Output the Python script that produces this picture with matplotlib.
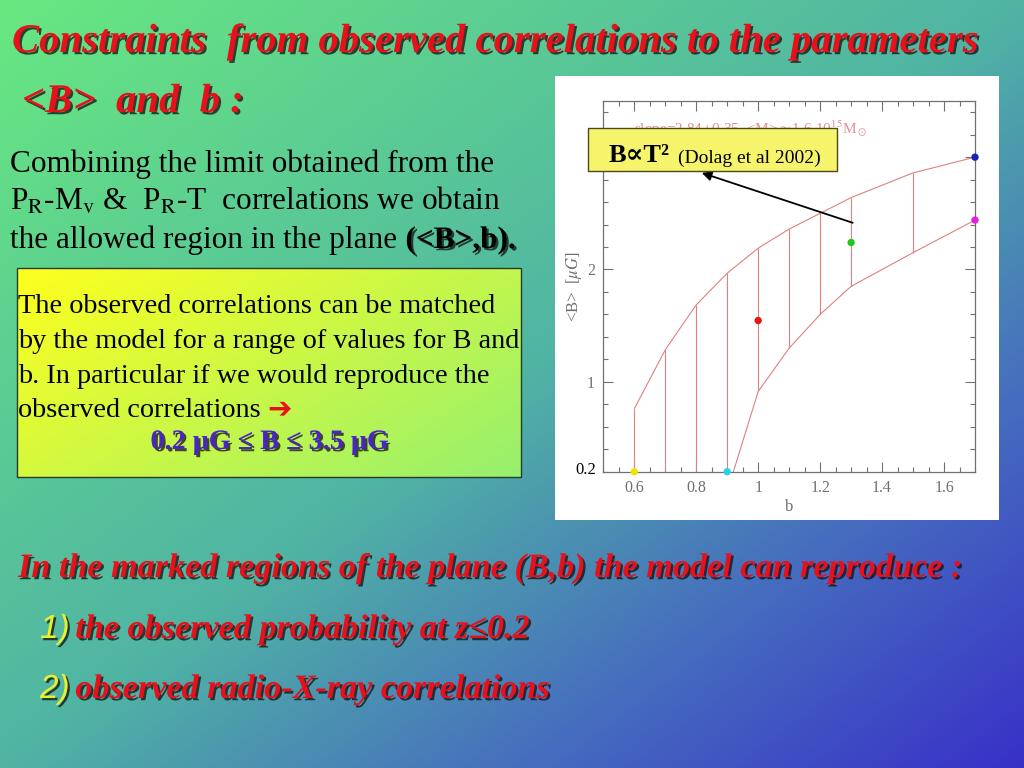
import numpy as np
import matplotlib
matplotlib.use("Agg")
import matplotlib.pyplot as plt
import matplotlib.patheffects as pe
from matplotlib.patches import Rectangle
from matplotlib.ticker import MultipleLocator, FixedLocator

plt.rcParams['mathtext.fontset'] = 'stix'

# ---------------- data ----------------
upper_b = [0.6, 0.7, 0.8, 0.9, 1.0, 1.1, 1.2, 1.3, 1.5, 1.7]
upper_B = [0.76, 1.285, 1.685, 1.967, 2.19, 2.36, 2.50, 2.64, 2.86, 3.0]
lower_b = [0.92, 1.0, 1.1, 1.2, 1.3, 1.5, 1.7]
lower_B = [0.2, 0.914, 1.30, 1.60, 1.85, 2.15, 2.44]
hatch_b = [0.6, 0.7, 0.8, 0.9, 1.0, 1.1, 1.2, 1.3, 1.5]
hatch_lo = [0.2, 0.2, 0.2, 0.2, 0.914, 1.30, 1.60, 1.85, 2.15]
hatch_hi = [0.76, 1.285, 1.685, 1.967, 2.19, 2.36, 2.50, 2.64, 2.86]
dot_b = [0.6, 0.9, 1.0, 1.3, 1.7, 1.7]
dot_B = [0.2, 0.2, 1.546, 2.24, 3.0, 2.44]
dot_colors = ['#f2e400', '#22d4e4', '#e01818', '#22c41e', '#1422c0', '#e41ee4']
x_ticks = [0.6, 0.8, 1.0, 1.2, 1.4, 1.6]
x_ticklabels = ['0.6', '0.8', '1', '1.2', '1.4', '1.6']
y_ticks = [1, 2, 3]
y_ticklabels = ['1', '2', '3']

title1 = "Constraints  from observed correlations to the parameters"
title2 = " <B>  and  b :"
para = ["Combining the limit obtained from the",
        r"P$_\mathrm{R}$-M$_\mathrm{v}$ &  P$_\mathrm{R}$-T  correlations we obtain",
        "the allowed region in the plane"]
para_bold = "(<B>,b)."
box_lines = ["The observed correlations can be matched",
             "by the model for a range of values for B and",
             "b. In particular if we would reproduce the",
             "observed correlations"]
box_range = "0.2 μG ≤ B ≤ 3.5 μG"
bottom1 = "In the marked regions of the plane (B,b) the model can reproduce :"
items = ["the observed probability at z≤0.2", "observed radio-X-ray correlations"]

W, H = 1024, 768
fig = plt.figure(figsize=(W / 100, H / 100), dpi=100)

# ---------------- background (pixel coords, y down) ----------------
bg = fig.add_axes([0, 0, 1, 1], zorder=-10)
yy, xx = np.mgrid[0:H, 0:W]
t = (xx / W + yy / H) / 2
st = [0, 0.5, 0.75, 1]
sc = np.array([[104, 232, 128], [80, 180, 164], [70, 110, 190], [56, 48, 200]]) / 255
img = np.stack([np.interp(t, st, sc[:, k]) for k in range(3)], axis=-1)
bg.imshow(img, extent=[0, W, H, 0], aspect='auto', interpolation='bilinear')

# yellow-green text box gradient
by0, by1, bx0, bx1 = 268, 477, 17, 521
gy, gx = np.mgrid[0:100, 0:100]
gt = (gx / 99 * 0.6 + gy / 99 * 0.4)
c0 = np.array([255, 255, 30]) / 255
c1 = np.array([150, 240, 110]) / 255
gimg = c0[None, None, :] * (1 - gt[..., None]) + c1[None, None, :] * gt[..., None]
bg.imshow(gimg, extent=[bx0, bx1, by1, by0], aspect='auto', interpolation='bilinear')
bg.add_patch(Rectangle((bx0, by0), bx1 - bx0, by1 - by0, fill=False,
                       edgecolor='#2a3a2a', lw=1.0))
# white chart panel
bg.add_patch(Rectangle((555, 76), 444, 444, facecolor='white', edgecolor='none'))
bg.set_xlim(0, W)
bg.set_ylim(H, 0)
bg.axis('off')

RED = '#e8101a'
shadow = [pe.withSimplePatchShadow(offset=(1.6, -1.6), shadow_rgbFace='#101010', alpha=0.75)]
SERIF = ['Liberation Serif', 'DejaVu Serif']

# title
bg.text(12, 52, title1, fontsize=29.3, family=SERIF, style='italic', weight='bold',
        color=RED, va='baseline', path_effects=shadow)
bg.text(12, 112, title2, fontsize=29.3, family=SERIF, style='italic', weight='bold',
        color=RED, va='baseline', path_effects=shadow)

# paragraph
for i, (s, yb) in enumerate(zip(para, [172, 210, 248])):
    tt = bg.text(10, yb, s, fontsize=22.5, family=SERIF, color='black', va='baseline')
bg.annotate(para_bold, xy=(1, 0), xycoords=tt, xytext=(6, 0), textcoords='offset points',
            fontsize=22.5, family=SERIF, weight='bold', color='black', va='bottom',
            path_effects=shadow)

# box text
for s, yb in zip(box_lines, [313, 348, 383, 417]):
    tb = bg.text(18, yb, s, fontsize=20.3, family=SERIF, color='black', va='baseline')
bg.annotate('➔', xy=(1, 0), xycoords=tb, xytext=(5, 0), textcoords='offset points',
            fontsize=21, family=['DejaVu Sans'], weight='bold', color=RED, va='bottom')
bg.text(270, 449, box_range, fontsize=20.3, family=SERIF, weight='bold', color='#4a24c8',
        ha='center', va='baseline', path_effects=shadow)

# bottom text
bg.text(18, 577, bottom1, fontsize=24.6, family=SERIF, style='italic', weight='bold',
        color=RED, va='baseline', path_effects=shadow)
for k, (s, yb) in enumerate(zip(items, [638, 698])):
    num = bg.text(40, yb, f"{k + 1})", fontsize=24, family=['Liberation Sans', 'DejaVu Sans'],
                  style='italic', color='#e8f030', va='baseline', path_effects=shadow)
    bg.annotate(s, xy=(1, 0), xycoords=num, xytext=(4, 0), textcoords='offset points',
                fontsize=24.6, family=SERIF, style='italic', weight='bold', color=RED,
                va='bottom', path_effects=shadow)

# "0.2" label next to the chart
bg.text(596, 470, "0.2", fontsize=12, family=SERIF, color='black', ha='right', va='center')

# ---------------- chart ----------------
L, R, T, Bt = 603.3, 975.0, 101.0, 471.7
ax = fig.add_axes([L / W, 1 - Bt / H, (R - L) / W, (Bt - T) / H], zorder=1)
ax.set_facecolor('white')
LINE = '#e08080'
ax.plot(upper_b, upper_B, color=LINE, lw=0.8)
ax.plot(lower_b, lower_B, color=LINE, lw=0.8)
ax.vlines(hatch_b, hatch_lo, hatch_hi, color=LINE, lw=0.8)
ax.scatter(dot_b, dot_B, s=28, c=dot_colors, zorder=5, clip_on=False, edgecolors='none')
ax.set_xlim(0.5, 1.7)
ax.set_ylim(0.2, 3.5)
ax.xaxis.set_major_locator(FixedLocator(x_ticks))
ax.set_xticklabels(x_ticklabels)
ax.xaxis.set_minor_locator(MultipleLocator(0.05))
ax.yaxis.set_major_locator(FixedLocator(y_ticks))
ax.set_yticklabels(y_ticklabels)
ax.yaxis.set_minor_locator(MultipleLocator(0.2))
GRAY = '#707070'
ax.tick_params(which='both', direction='in', top=True, right=True, colors=GRAY,
               labelsize=11.5, width=0.8)
ax.tick_params(which='major', length=7)
ax.tick_params(which='minor', length=3.5)
ax.tick_params(axis='x', pad=6)
ax.tick_params(axis='y', pad=6)
for lab in ax.get_xticklabels() + ax.get_yticklabels():
    lab.set_family(SERIF)
for sp in ax.spines.values():
    sp.set_color(GRAY)
    sp.set_linewidth(0.9)
ax.set_xlabel('b', family=SERIF, fontsize=12, color=GRAY, labelpad=2)
ax.set_ylabel(r'<B>  [$\mu G$]', family=SERIF, fontsize=12, color=GRAY, labelpad=2)
ax.text(0.6, 3.21, r'slope=2.84$\pm$0.35  <M>$\simeq$1.6$\cdot$10$^{15}$M$_\odot$',
        family=SERIF, fontsize=11, color='#e09090', va='baseline', clip_on=False)
ax.annotate('', xy=(0.818, 2.86), xytext=(1.305, 2.416),
            arrowprops=dict(arrowstyle='-|>', color='black', lw=1.3, mutation_scale=14,
                            shrinkA=0, shrinkB=0))

# ---------------- overlay: yellow label box ----------------
ov = fig.add_axes([0, 0, 1, 1], zorder=5)
ov.patch.set_alpha(0)
ov.add_patch(Rectangle((588, 128), 249, 43, facecolor='#f6f46a', edgecolor='#4a4a1a', lw=1.0))
lbl = ov.text(609, 162, 'B∝T²', fontsize=19, family=SERIF, weight='bold', color='black',
              va='baseline')
ov.annotate('(Dolag et al 2002)', xy=(1, 0), xycoords=lbl, xytext=(6, 0),
            textcoords='offset points', fontsize=14, family=SERIF, color='black', va='bottom')
ov.set_xlim(0, W)
ov.set_ylim(H, 0)
ov.axis('off')

fig.savefig('out.png', dpi=100)
